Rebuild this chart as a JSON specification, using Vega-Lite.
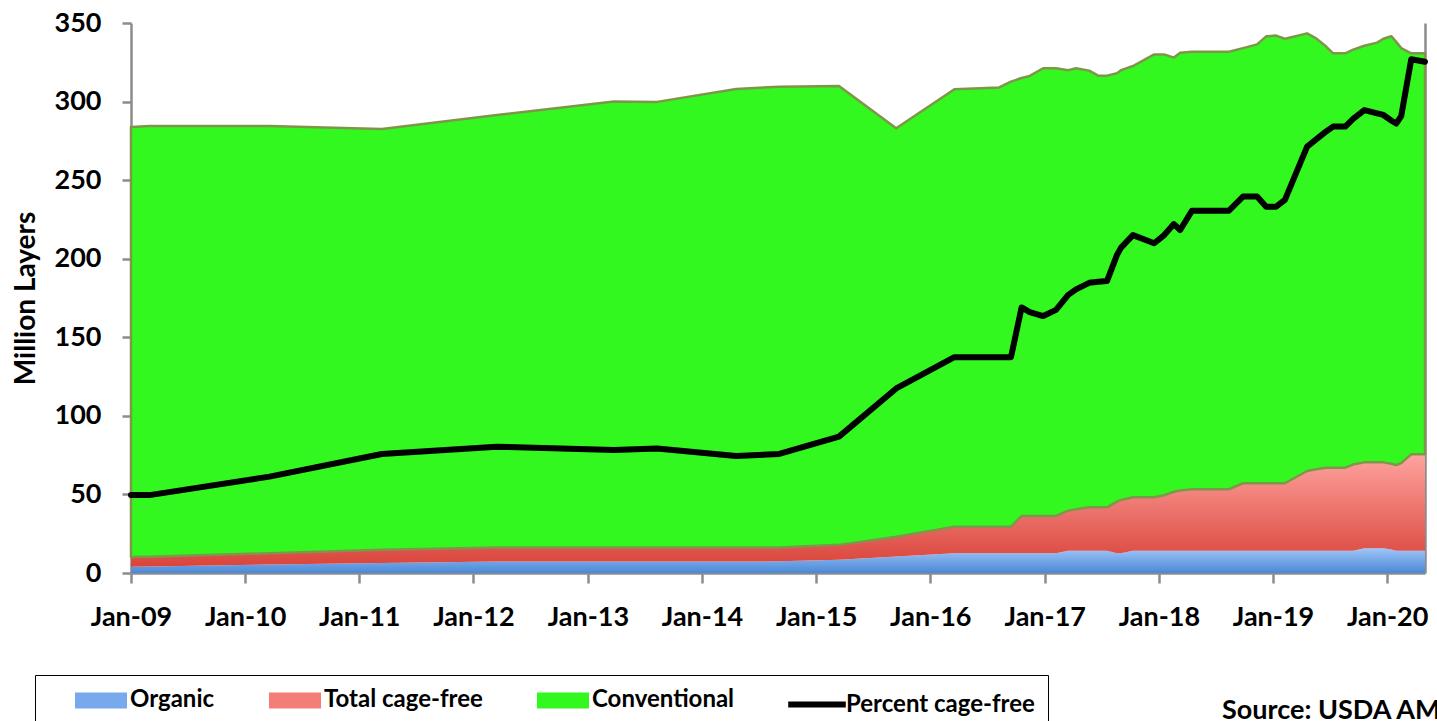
{
  "$schema": "https://vega.github.io/schema/vega-lite/v6.json",
  "autosize": {"type": "none"},
  "width": 1294,
  "height": 550,
  "padding": {"left": 131, "top": 23, "right": 12, "bottom": 148},
  "background": "white",
  "title": {
    "text": "Source: USDA AMS",
    "orient": "bottom",
    "anchor": "start",
    "frame": "group",
    "dx": 1091,
    "dy": -37,
    "offset": 0,
    "font": "Lato",
    "fontSize": 27,
    "fontWeight": "bold",
    "color": "black"
  },
  "data": {
    "values": [
      {"date": "2009-01-01T00:00:00", "organic": 4.0, "cagefree": 10.2, "total": 283.8, "pct": 3.54},
      {"date": "2009-03-01T00:00:00", "organic": 4.1, "cagefree": 10.4, "total": 284.5, "pct": 3.54},
      {"date": "2010-03-20T00:00:00", "organic": 5.4, "cagefree": 12.6, "total": 284.4, "pct": 4.38},
      {"date": "2011-03-14T00:00:00", "organic": 6.4, "cagefree": 14.8, "total": 282.5, "pct": 5.41},
      {"date": "2012-03-16T00:00:00", "organic": 7.3, "cagefree": 16.2, "total": 291.5, "pct": 5.74},
      {"date": "2013-03-25T00:00:00", "organic": 7.3, "cagefree": 16.2, "total": 300.0, "pct": 5.59},
      {"date": "2013-08-10T00:00:00", "organic": 7.3, "cagefree": 16.2, "total": 299.8, "pct": 5.66},
      {"date": "2014-04-20T00:00:00", "organic": 7.3, "cagefree": 16.2, "total": 308.0, "pct": 5.32},
      {"date": "2014-09-05T00:00:00", "organic": 7.4, "cagefree": 16.3, "total": 309.5, "pct": 5.41},
      {"date": "2015-03-15T00:00:00", "organic": 8.5, "cagefree": 17.9, "total": 309.9, "pct": 6.20},
      {"date": "2015-09-14T00:00:00", "organic": 10.5, "cagefree": 23.1, "total": 283.0, "pct": 8.39},
      {"date": "2016-03-18T00:00:00", "organic": 12.5, "cagefree": 29.5, "total": 307.8, "pct": 9.81},
      {"date": "2016-08-08T00:00:00", "organic": 12.5, "cagefree": 29.5, "total": 309.0, "pct": 9.81},
      {"date": "2016-09-15T00:00:00", "organic": 12.5, "cagefree": 29.5, "total": 312.7, "pct": 9.81},
      {"date": "2016-10-19T00:00:00", "organic": 12.5, "cagefree": 36.3, "total": 315.0, "pct": 12.07},
      {"date": "2016-11-14T00:00:00", "organic": 12.5, "cagefree": 36.3, "total": 316.3, "pct": 11.86},
      {"date": "2016-12-27T00:00:00", "organic": 12.5, "cagefree": 36.3, "total": 321.2, "pct": 11.68},
      {"date": "2017-02-06T00:00:00", "organic": 12.5, "cagefree": 36.3, "total": 321.2, "pct": 11.96},
      {"date": "2017-03-17T00:00:00", "organic": 14.2, "cagefree": 39.7, "total": 320.0, "pct": 12.64},
      {"date": "2017-04-11T00:00:00", "organic": 14.2, "cagefree": 40.5, "total": 321.2, "pct": 12.89},
      {"date": "2017-05-23T00:00:00", "organic": 14.2, "cagefree": 41.8, "total": 319.7, "pct": 13.19},
      {"date": "2017-06-21T00:00:00", "organic": 14.2, "cagefree": 41.8, "total": 316.5, "pct": 13.24},
      {"date": "2017-07-19T00:00:00", "organic": 14.2, "cagefree": 41.8, "total": 316.5, "pct": 13.27},
      {"date": "2017-08-20T00:00:00", "organic": 12.5, "cagefree": 45.4, "total": 318.0, "pct": 14.46},
      {"date": "2017-09-02T00:00:00", "organic": 12.5, "cagefree": 46.5, "total": 320.0, "pct": 14.79},
      {"date": "2017-10-10T00:00:00", "organic": 14.2, "cagefree": 48.2, "total": 322.6, "pct": 15.36},
      {"date": "2017-12-17T00:00:00", "organic": 14.2, "cagefree": 48.2, "total": 330.0, "pct": 14.99},
      {"date": "2018-01-18T00:00:00", "organic": 14.2, "cagefree": 49.5, "total": 330.0, "pct": 15.36},
      {"date": "2018-02-18T00:00:00", "organic": 14.2, "cagefree": 51.7, "total": 328.0, "pct": 15.86},
      {"date": "2018-03-10T00:00:00", "organic": 14.2, "cagefree": 52.5, "total": 331.0, "pct": 15.59},
      {"date": "2018-04-17T00:00:00", "organic": 14.2, "cagefree": 53.3, "total": 331.7, "pct": 16.47},
      {"date": "2018-08-13T00:00:00", "organic": 14.2, "cagefree": 53.3, "total": 331.7, "pct": 16.47},
      {"date": "2018-09-27T00:00:00", "organic": 14.2, "cagefree": 57.1, "total": 334.0, "pct": 17.11},
      {"date": "2018-11-11T00:00:00", "organic": 14.2, "cagefree": 57.1, "total": 336.4, "pct": 17.11},
      {"date": "2018-12-10T00:00:00", "organic": 14.2, "cagefree": 57.1, "total": 341.5, "pct": 16.65},
      {"date": "2019-01-11T00:00:00", "organic": 14.2, "cagefree": 57.1, "total": 342.0, "pct": 16.65},
      {"date": "2019-02-08T00:00:00", "organic": 14.2, "cagefree": 57.1, "total": 340.0, "pct": 16.96},
      {"date": "2019-04-20T00:00:00", "organic": 14.2, "cagefree": 64.9, "total": 343.4, "pct": 19.38},
      {"date": "2019-05-19T00:00:00", "organic": 14.2, "cagefree": 66.0, "total": 340.2, "pct": 19.71},
      {"date": "2019-06-20T00:00:00", "organic": 14.2, "cagefree": 67.0, "total": 335.0, "pct": 20.07},
      {"date": "2019-07-12T00:00:00", "organic": 14.2, "cagefree": 67.0, "total": 330.7, "pct": 20.29},
      {"date": "2019-08-20T00:00:00", "organic": 14.2, "cagefree": 67.0, "total": 330.7, "pct": 20.29},
      {"date": "2019-09-14T00:00:00", "organic": 14.2, "cagefree": 69.0, "total": 333.0, "pct": 20.64},
      {"date": "2019-10-20T00:00:00", "organic": 15.7, "cagefree": 70.4, "total": 335.5, "pct": 21.04},
      {"date": "2019-11-30T00:00:00", "organic": 15.7, "cagefree": 70.4, "total": 337.5, "pct": 20.89},
      {"date": "2019-12-20T00:00:00", "organic": 15.7, "cagefree": 70.4, "total": 340.0, "pct": 20.82},
      {"date": "2020-01-14T00:00:00", "organic": 15.0, "cagefree": 69.5, "total": 341.6, "pct": 20.57},
      {"date": "2020-01-30T00:00:00", "organic": 14.2, "cagefree": 68.7, "total": 338.0, "pct": 20.43},
      {"date": "2020-02-15T00:00:00", "organic": 14.2, "cagefree": 70.0, "total": 334.0, "pct": 20.77},
      {"date": "2020-03-18T00:00:00", "organic": 14.2, "cagefree": 75.5, "total": 330.7, "pct": 23.35},
      {"date": "2020-05-01T00:00:00", "organic": 14.2, "cagefree": 75.5, "total": 330.7, "pct": 23.24}
    ]
  },
  "layer": [
    {
      "layer": [
        {
          "mark": {
            "type": "area",
            "fill": {"gradient": "linear", "x1": 0, "y1": 0, "x2": 0, "y2": 1, "stops": [{"offset": 0, "color": "#9fc5f8"}, {"offset": 1, "color": "#4a88d6"}]}
          },
          "encoding": {
            "x": {"field": "date", "type": "temporal", "title": null,
              "scale": {"domain": [{"year": 2009, "month": 1, "date": 1}, {"year": 2020, "month": 5, "date": 1}]},
              "axis": {"format": "%b-%y", "tickCount": {"interval": "year", "step": 1}, "labelPadding": 21, "tickSize": 10, "labelFlush": false, "labelOverlap": false, "grid": false}},
            "y": {"field": "organic", "type": "quantitative", "stack": null, "title": "Million Layers",
              "scale": {"domain": [0, 350], "nice": false, "zero": true},
              "axis": {"values": [0, 50, 100, 150, 200, 250, 300, 350], "tickSize": 9, "labelPadding": 21, "titlePadding": 14, "grid": false}}
          }
        },
        {
          "mark": {
            "type": "area",
            "fill": {"gradient": "linear", "x1": 0, "y1": 0, "x2": 0, "y2": 1, "stops": [{"offset": 0, "color": "#ffa39e"}, {"offset": 1, "color": "#d9443b"}]}
          },
          "encoding": {
            "x": {"field": "date", "type": "temporal", "title": null},
            "y": {"field": "cagefree", "type": "quantitative", "stack": null, "title": "Million Layers"},
            "y2": {"field": "organic"}
          }
        },
        {
          "mark": {"type": "area", "fill": "#33f81f", "stroke": "#7f964a", "strokeWidth": 2.5, "strokeJoin": "round"},
          "encoding": {
            "x": {"field": "date", "type": "temporal", "title": null},
            "y": {"field": "total", "type": "quantitative", "stack": null, "title": "Million Layers"},
            "y2": {"field": "cagefree"}
          }
        }
      ]
    },
    {
      "mark": {"type": "line", "color": "black", "strokeWidth": 6, "strokeCap": "round", "strokeJoin": "round"},
      "encoding": {
        "x": {"field": "date", "type": "temporal", "title": null},
        "y": {"field": "pct", "type": "quantitative", "title": null,
          "scale": {"domain": [0, 25], "nice": false},
          "axis": {"orient": "right", "labels": false, "ticks": false, "grid": false, "domain": true}}
      }
    },
    {
      "transform": [{"filter": "false"}],
      "mark": {"type": "point", "filled": true, "opacity": 1, "strokeCap": "round"},
      "encoding": {
        "fill": {
          "datum": "Percent cage-free", "type": "nominal",
          "scale": {
            "domain": ["Organic", "Total cage-free", "Conventional", "Percent cage-free"],
            "range": ["#78a9ec", "#f47e77", "#33f81f", "black"]
          },
          "legend": {
            "title": "\u00a0",
            "titleOrient": "left",
            "titlePadding": 27,
            "titleFontSize": 24,
            "orient": "none",
            "legendX": -96,
            "legendY": 652,
            "direction": "horizontal",
            "padding": 13,
            "strokeColor": "black",
            "fillColor": "white",
            "symbolSize": 324,
            "symbolStrokeWidth": 6,
            "symbolOffset": 14,
            "symbolOpacity": 1,
            "labelOffset": 17,
            "columnPadding": 41,
            "labelFont": "Lato",
            "labelFontSize": 24,
            "labelFontWeight": "bold",
            "labelColor": "black",
            "labelLimit": 400
          }
        },
        "shape": {
          "datum": "Percent cage-free", "type": "nominal",
          "scale": {
            "domain": ["Organic", "Total cage-free", "Conventional", "Percent cage-free"],
            "range": [
              "M-2.89,-0.89L2.89,-0.89L2.89,0.89L-2.89,0.89Z",
              "M-2.89,-0.89L2.89,-0.89L2.89,0.89L-2.89,0.89Z",
              "M-2.89,-0.89L2.89,-0.89L2.89,0.89L-2.89,0.89Z",
              "M-3.2,0L3.2,0"
            ]
          }
        },
        "stroke": {
          "datum": "Percent cage-free", "type": "nominal",
          "scale": {
            "domain": ["Organic", "Total cage-free", "Conventional", "Percent cage-free"],
            "range": ["transparent", "transparent", "transparent", "black"]
          }
        }
      }
    }
  ],
  "resolve": {"scale": {"y": "independent"}},
  "config": {
    "view": {"stroke": null},
    "font": "Lato",
    "axis": {
      "domainColor": "#8c8c8c",
      "domainWidth": 2.5,
      "tickColor": "#8c8c8c",
      "tickWidth": 2.5,
      "labelFont": "Lato",
      "labelFontSize": 27,
      "labelFontWeight": "bold",
      "labelColor": "black",
      "titleFont": "Lato",
      "titleFontSize": 28,
      "titleFontWeight": "bold",
      "titleColor": "black"
    }
  }
}
